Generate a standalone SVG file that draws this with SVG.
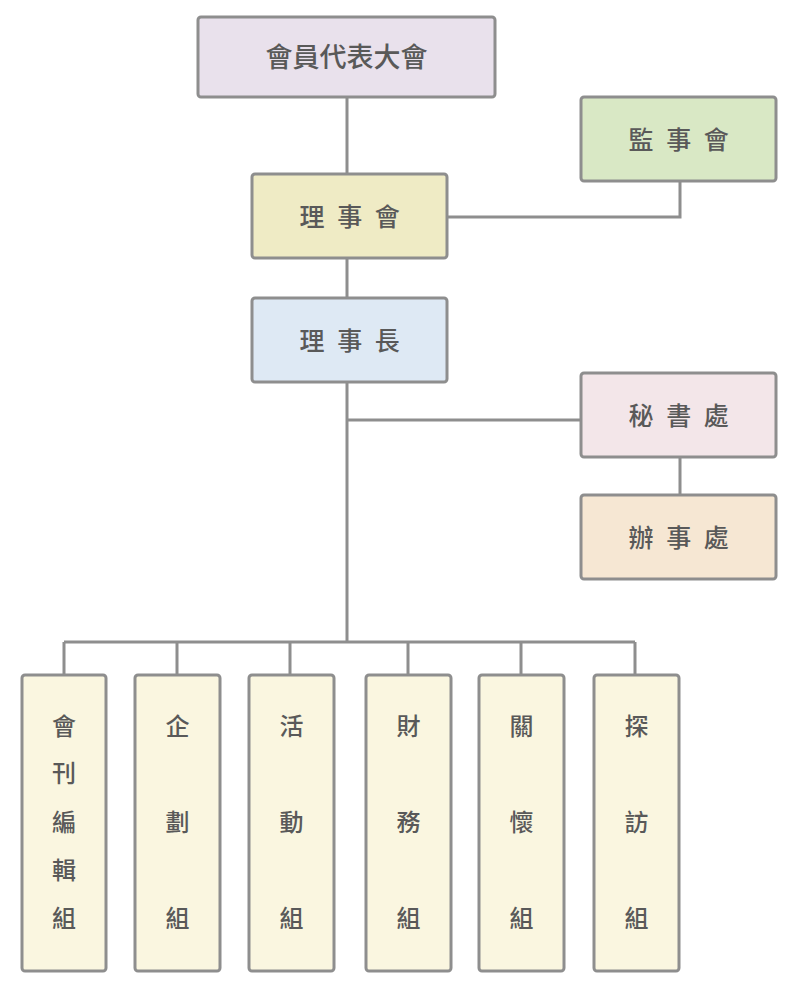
<svg xmlns="http://www.w3.org/2000/svg" width="800" height="1006" viewBox="0 0 800 1006">
<style>
.box{stroke:#8e8e8e;stroke-width:3}
.t{font-family:"Noto Sans CJK TC","Noto Sans CJK SC",sans-serif;font-weight:500;fill:#595959;text-anchor:middle;dominant-baseline:central}
.h{font-size:25px;letter-spacing:3.5px}
.v{font-size:24px}
.c{fill:none;stroke:#8e8e8e;stroke-width:3}
</style>
<rect width="800" height="1006" fill="#ffffff"/>
<g id="connectors">
<path class="c" d="M347 97V174M347 258V298M347 382V642M447 217H680V181M347 420H581M680 457V495M64 642H635M64 642V675M177 642V675M290 642V675M408 642V675M521 642V675M635 642V675"/>
</g>
<g id="n-general">
<rect class="box" x="198" y="17" width="297" height="80" rx="3" fill="#e9e1ec"/>
<text class="t" x="346.5" y="55" font-size="27">會員代表大會</text>
</g>
<g id="n-supervisors">
<rect class="box" x="581" y="97" width="195" height="84" rx="3" fill="#d9e8c5"/>
<text class="t h" x="680.5" y="138">監 事 會</text>
</g>
<g id="n-board">
<rect class="box" x="252" y="174" width="195" height="84" rx="3" fill="#efebc5"/>
<text class="t h" x="351.5" y="215">理 事 會</text>
</g>
<g id="n-chair">
<rect class="box" x="252" y="298" width="195" height="84" rx="3" fill="#dee9f4"/>
<text class="t h" x="351.5" y="339">理 事 長</text>
</g>
<g id="n-secretariat">
<rect class="box" x="581" y="373" width="195" height="84" rx="3" fill="#f3e6e9"/>
<text class="t h" x="680.5" y="414">秘 書 處</text>
</g>
<g id="n-office">
<rect class="box" x="581" y="495" width="195" height="84" rx="3" fill="#f6e7d3"/>
<text class="t h" x="680.5" y="536">辦 事 處</text>
</g>
<g id="n-g1">
<rect class="box" x="22" y="675" width="84" height="296" rx="3" fill="#faf6e0"/>
<text class="t v" x="64"><tspan x="64" y="724">會</tspan><tspan x="64" y="771">刊</tspan><tspan x="64" y="820">編</tspan><tspan x="64" y="868">輯</tspan><tspan x="64" y="916">組</tspan></text>
</g>
<g id="n-g2">
<rect class="box" x="135" y="675" width="85" height="296" rx="3" fill="#faf6e0"/>
<text class="t v" x="177.5"><tspan x="177.5" y="724">企</tspan><tspan x="177.5" y="820">劃</tspan><tspan x="177.5" y="916">組</tspan></text>
</g>
<g id="n-g3">
<rect class="box" x="249" y="675" width="85" height="296" rx="3" fill="#faf6e0"/>
<text class="t v" x="291.5"><tspan x="291.5" y="724">活</tspan><tspan x="291.5" y="820">動</tspan><tspan x="291.5" y="916">組</tspan></text>
</g>
<g id="n-g4">
<rect class="box" x="366" y="675" width="85" height="296" rx="3" fill="#faf6e0"/>
<text class="t v" x="408.5"><tspan x="408.5" y="724">財</tspan><tspan x="408.5" y="820">務</tspan><tspan x="408.5" y="916">組</tspan></text>
</g>
<g id="n-g5">
<rect class="box" x="479" y="675" width="85" height="296" rx="3" fill="#faf6e0"/>
<text class="t v" x="521.5"><tspan x="521.5" y="724">關</tspan><tspan x="521.5" y="820">懷</tspan><tspan x="521.5" y="916">組</tspan></text>
</g>
<g id="n-g6">
<rect class="box" x="594" y="675" width="85" height="296" rx="3" fill="#faf6e0"/>
<text class="t v" x="636.5"><tspan x="636.5" y="724">探</tspan><tspan x="636.5" y="820">訪</tspan><tspan x="636.5" y="916">組</tspan></text>
</g>
</svg>
